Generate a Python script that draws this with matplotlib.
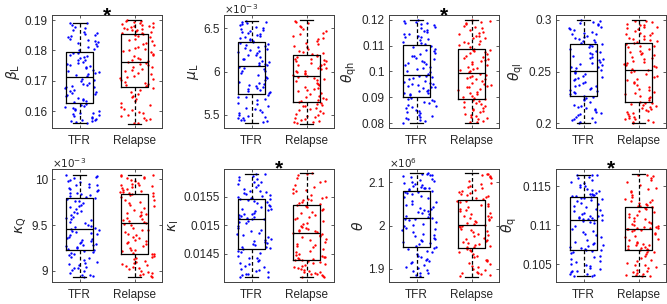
import numpy as np
import matplotlib
matplotlib.use('Agg')
import matplotlib.pyplot as plt
from matplotlib.ticker import FuncFormatter

plt.rcParams['font.family'] = ['Liberation Sans', 'DejaVu Sans']
plt.rcParams['mathtext.fontset'] = 'dejavusans'

groups = ['TFR', 'Relapse']

beta_L_tfr = np.array([
    1561, 1574, 1566, 1589, 1603, 1571, 1612, 1595, 1580, 1620, 1564, 1607, 1583, 1592, 1569, 1615, 1599, 1577, 1624, 1586, 1609, 1568,
    1633, 1652, 1679, 1641, 1698, 1664, 1687, 1637, 1705, 1671, 1648, 1659, 1692, 1683, 1644, 1675, 1702, 1667, 1631, 1656, 1690, 1679,
    1716, 1748, 1733, 1779, 1762, 1725, 1790, 1741, 1754, 1770, 1719, 1786, 1737, 1758, 1729, 1767, 1744, 1782, 1722, 1751, 1774, 1793,
    1801, 1843, 1827, 1866, 1812, 1879, 1851, 1834, 1889, 1806, 1858, 1820, 1873, 1839, 1884, 1815, 1862, 1847, 1830, 1891, 1855, 1824]) * 1e-4
beta_L_rel = np.array([
    1559, 1587, 1612, 1573, 1640, 1598, 1664, 1569, 1625, 1651, 1582, 1607, 1676, 1593, 1633, 1561, 1619, 1645, 1670, 1578, 1603, 1657,
    1683, 1721, 1697, 1745, 1709, 1758, 1689, 1732, 1715, 1751, 1702, 1739, 1681, 1727, 1693, 1761, 1713, 1744, 1686, 1735, 1706, 1755,
    1768, 1802, 1785, 1839, 1817, 1776, 1848, 1794, 1826, 1771, 1809, 1843, 1781, 1830, 1797, 1851, 1813, 1789, 1835, 1766, 1821, 1806,
    1858, 1879, 1866, 1893, 1871, 1886, 1899, 1861, 1882, 1874, 1896, 1868, 1889, 1855, 1877, 1891, 1863, 1884, 1870, 1898, 1859, 1880]) * 1e-4

mu_L_tfr = np.array([
    5412, 5478, 5531, 5444, 5602, 5689, 5425, 5567, 5733, 5499, 5641, 5458, 5710, 5583, 5437, 5625, 5520, 5674, 5469, 5558, 5702, 5491,
    5752, 5831, 5903, 5788, 5967, 6044, 5812, 5879, 6012, 5763, 5941, 6058, 5846, 5795, 5988, 5867, 6031, 5776, 5925, 5856, 6003, 5819,
    6078, 6142, 6213, 6105, 6287, 6331, 6165, 6239, 6094, 6302, 6188, 6127, 6266, 6321, 6151, 6224, 6083, 6279, 6198, 6112, 6256, 6314,
    6348, 6412, 6497, 6379, 6553, 6431, 6578, 6365, 6466, 6521, 6401, 6584, 6446, 6359, 6539, 6488, 6422, 6569, 6391, 6507, 6455, 6572]) * 1e-6
mu_L_rel = np.array([
    5403, 5466, 5521, 5437, 5598, 5641, 5419, 5553, 5489, 5617, 5447, 5578, 5509, 5631, 5428, 5543, 5476, 5605, 5412, 5566, 5499, 5649,
    5661, 5737, 5812, 5694, 5889, 5942, 5724, 5798, 5866, 5679, 5917, 5751, 5843, 5708, 5931, 5776, 5855, 5667, 5903, 5789, 5828, 5945,
    5961, 6028, 6104, 5987, 6152, 6189, 6012, 6073, 6134, 5974, 6168, 6047, 6119, 5998, 6179, 6061, 6091, 6005, 6146, 6037, 6126, 6083,
    6204, 6287, 6376, 6241, 6453, 6532, 6318, 6589, 6264, 6411, 6497, 6226, 6355, 6561, 6299, 6468, 6389, 6214, 6520, 6337, 6434, 6575]) * 1e-6

theta_qh_tfr = np.array([
    802, 831, 857, 815, 889, 846, 871, 808, 899, 824, 863, 839, 883, 812, 851, 877, 827, 895, 842, 819, 868, 886,
    907, 941, 969, 923, 982, 951, 915, 974, 935, 960, 911, 947, 978, 929, 956, 918, 984, 938, 965, 926, 952, 944,
    991, 1034, 1078, 1012, 1095, 1049, 1003, 1067, 1026, 1088, 1041, 997, 1059, 1018, 1083, 1037, 1072, 1008, 1053, 1029, 1099, 1062,
    1108, 1147, 1183, 1126, 1196, 1161, 1115, 1174, 1139, 1192, 1153, 1121, 1187, 1132, 1168, 1110, 1179, 1144, 1199, 1157, 1135, 1189]) * 1e-4
theta_qh_rel = np.array([
    804, 837, 862, 818, 881, 849, 809, 873, 829, 893, 856, 814, 868, 842, 887, 822, 877, 833, 858, 806, 891, 845,
    899, 938, 972, 916, 987, 951, 905, 963, 929, 980, 945, 911, 969, 934, 991, 922, 957, 902, 976, 941, 984, 948,
    998, 1036, 1071, 1012, 1084, 1049, 1003, 1061, 1027, 1079, 1041, 1007, 1066, 1019, 1087, 1054, 1031, 1075, 1045, 1009, 1058, 1082,
    1094, 1136, 1178, 1112, 1193, 1155, 1101, 1167, 1128, 1198, 1146, 1119, 1184, 1139, 1161, 1105, 1189, 1131, 1173, 1149, 1116, 1197]) * 1e-4

theta_ql_tfr = np.array([
    2004, 2087, 2153, 2031, 2219, 2112, 2254, 2062, 2178, 2015, 2136, 2241, 2095, 2049, 2201, 2123, 2008, 2166, 2074, 2232, 2143, 2039,
    2263, 2341, 2417, 2298, 2489, 2372, 2445, 2279, 2503, 2356, 2401, 2318, 2472, 2289, 2436, 2364, 2497, 2327, 2389, 2457, 2307, 2425,
    2512, 2594, 2671, 2548, 2743, 2627, 2702, 2531, 2764, 2608, 2653, 2573, 2721, 2539, 2689, 2617, 2758, 2582, 2641, 2734, 2561, 2679,
    2773, 2846, 2917, 2805, 2982, 2871, 2948, 2789, 2996, 2859, 2904, 2821, 2967, 2838, 2931, 2812, 2989, 2883, 2956, 2795, 2924, 2867]) * 1e-4
theta_ql_rel = np.array([
    2003, 2071, 2134, 2029, 2187, 2098, 2162, 2014, 2119, 2051, 2198, 2083, 2146, 2037, 2175, 2009, 2106, 2062, 2153, 2191, 2044, 2125,
    2209, 2306, 2402, 2251, 2478, 2347, 2431, 2227, 2513, 2369, 2281, 2455, 2318, 2494, 2239, 2387, 2264, 2446, 2332, 2505, 2296, 2419,
    2524, 2603, 2689, 2561, 2752, 2637, 2716, 2542, 2774, 2619, 2668, 2583, 2735, 2551, 2701, 2628, 2767, 2594, 2656, 2744, 2572, 2681,
    2786, 2852, 2921, 2813, 2981, 2877, 2947, 2799, 2994, 2865, 2908, 2828, 2963, 2841, 2934, 2819, 2987, 2889, 2955, 2805, 2927, 2871]) * 1e-4

kappa_Q_tfr = np.array([
    8938, 9012, 9087, 8961, 9154, 9043, 9211, 8979, 9118, 8952, 9066, 9183, 9027, 8995, 9139, 9221, 9074, 8947, 9103, 9169, 9036, 9197,
    9231, 9297, 9364, 9252, 9431, 9318, 9402, 9241, 9455, 9339, 9279, 9418, 9306, 9388, 9262, 9447, 9329, 9373, 9287, 9424, 9349, 9268,
    9467, 9563, 9658, 9502, 9741, 9612, 9695, 9481, 9782, 9588, 9536, 9723, 9631, 9518, 9764, 9574, 9679, 9493, 9645, 9757, 9551, 9706,
    9796, 9867, 9941, 9823, 10012, 9889, 9968, 9808, 10039, 9852, 9917, 9835, 9994, 9878, 9951, 9816, 10027, 9903, 9982, 9845, 9931, 10041]) * 1e-6
kappa_Q_rel = np.array([
    8937, 9003, 9071, 8958, 9142, 9034, 9112, 8972, 9181, 9049, 8991, 9127, 9062, 8946, 9163, 9018, 9098, 8983, 9153, 9041, 9187, 9087,
    9196, 9289, 9387, 9233, 9472, 9341, 9428, 9212, 9519, 9362, 9267, 9451, 9311, 9404, 9248, 9497, 9327, 9375, 9224, 9441, 9302, 9509,
    9533, 9621, 9714, 9568, 9801, 9659, 9753, 9547, 9834, 9642, 9596, 9776, 9687, 9559, 9819, 9631, 9739, 9581, 9702, 9826, 9613, 9768,
    9846, 9903, 9962, 9871, 10021, 9917, 9989, 9858, 10046, 9934, 9881, 10007, 9948, 9865, 10033, 9924, 9977, 9892, 10014, 9941, 9853, 10049]) * 1e-6

kappa_I_tfr = np.array([
    14096, 14213, 14347, 14152, 14468, 14281, 14551, 14127, 14402, 14239, 14583, 14178, 14319, 14436, 14104, 14267, 14512, 14195, 14376, 14538, 14141, 14421,
    14597, 14738, 14872, 14651, 14993, 14786, 15064, 14619, 14921, 14703, 15102, 14669, 14834, 14957, 14627, 14761, 15037, 14692, 14896, 15081, 14718, 14852,
    15117, 15204, 15312, 15148, 15401, 15259, 15443, 15133, 15358, 15221, 15457, 15171, 15287, 15386, 15124, 15243, 15421, 15189, 15334, 15449, 15162, 15276,
    15468, 15579, 15706, 15513, 15813, 15637, 15891, 15492, 15748, 15561, 15862, 15526, 15672, 15783, 15481, 15604, 15847, 15543, 15725, 15896, 15589, 15762]) * 1e-6
kappa_I_rel = np.array([
    14093, 14168, 14247, 14119, 14321, 14205, 14379, 14134, 14283, 14182, 14397, 14154, 14226, 14341, 14102, 14264, 14362, 14141, 14301, 14193, 14389, 14237,
    14406, 14527, 14648, 14452, 14761, 14583, 14834, 14431, 14705, 14496, 14851, 14469, 14612, 14738, 14418, 14556, 14792, 14479, 14672, 14817, 14441, 14629,
    14867, 14989, 15118, 14921, 15236, 15047, 15318, 14893, 15174, 14962, 15341, 14935, 15081, 15207, 14876, 15013, 15289, 14948, 15142, 15264, 14907, 15103,
    15358, 15491, 15637, 15412, 15778, 15553, 15872, 15386, 15703, 15459, 15908, 15431, 15588, 15745, 15367, 15522, 15831, 15443, 15661, 15896, 15474, 15612]) * 1e-6

theta_tfr = np.array([
    1883, 1904, 1927, 1891, 1942, 1912, 1949, 1897, 1934, 1886, 1918, 1945, 1908, 1923, 1889, 1938, 1901, 1930, 1915, 1947, 1894, 1921,
    1953, 1971, 1992, 1962, 2009, 1980, 2014, 1957, 1998, 1967, 2012, 1975, 1986, 2004, 1959, 1978, 2001, 1965, 1989, 2015, 1969, 1995,
    2018, 2035, 2057, 2026, 2072, 2044, 2077, 2022, 2063, 2031, 2075, 2040, 2051, 2068, 2020, 2038, 2066, 2029, 2054, 2078, 2033, 2047,
    2081, 2093, 2108, 2086, 2117, 2099, 2120, 2084, 2112, 2091, 2119, 2088, 2103, 2114, 2082, 2096, 2116, 2090, 2106, 2121, 2087, 2101]) * 1e3
theta_rel = np.array([
    1882, 1899, 1921, 1889, 1938, 1907, 1944, 1893, 1929, 1885, 1913, 1941, 1903, 1917, 1887, 1934, 1896, 1926, 1910, 1946, 1891, 1919,
    1949, 1963, 1981, 1955, 1996, 1971, 2000, 1952, 1987, 1959, 1999, 1967, 1976, 1992, 1951, 1969, 1989, 1957, 1979, 2001, 1961, 1984,
    2004, 2019, 2038, 2011, 2051, 2027, 2056, 2007, 2043, 2015, 2054, 2023, 2033, 2047, 2005, 2021, 2045, 2013, 2035, 2057, 2017, 2030,
    2061, 2078, 2097, 2069, 2113, 2086, 2119, 2065, 2104, 2073, 2117, 2081, 2092, 2109, 2063, 2083, 2115, 2071, 2099, 2120, 2075, 2089]) * 1e3

theta_q_tfr = np.array([
    10349, 10436, 10527, 10381, 10612, 10474, 10668, 10362, 10569, 10411, 10679, 10397, 10493, 10588, 10354, 10452, 10641, 10418, 10544, 10657, 10371, 10506,
    10688, 10789, 10912, 10731, 11024, 10846, 11063, 10705, 10957, 10762, 11069, 10719, 10871, 10993, 10697, 10814, 11041, 10748, 10931, 11055, 10773, 10889,
    11076, 11144, 11231, 11103, 11306, 11178, 11349, 11089, 11267, 11121, 11354, 11112, 11196, 11289, 11083, 11159, 11328, 11135, 11248, 11341, 11098, 11213,
    11363, 11432, 11519, 11389, 11601, 11467, 11641, 11372, 11558, 11414, 11644, 11398, 11489, 11582, 11368, 11447, 11623, 11405, 11536, 11637, 11381, 11501]) * 1e-5
theta_q_rel = np.array([
    10347, 10428, 10519, 10374, 10603, 10466, 10661, 10358, 10557, 10403, 10677, 10389, 10485, 10579, 10351, 10447, 10634, 10412, 10538, 10651, 10366, 10497,
    10686, 10758, 10843, 10712, 10921, 10789, 10948, 10697, 10882, 10741, 10951, 10724, 10806, 10903, 10691, 10773, 10937, 10733, 10861, 10944, 10751, 10827,
    10959, 11026, 11109, 10983, 11187, 11058, 11229, 10966, 11146, 11004, 11232, 10995, 11078, 11168, 10962, 11041, 11208, 11013, 11127, 11221, 10977, 11093,
    11241, 11336, 11462, 11283, 11573, 11391, 11641, 11259, 11517, 11312, 11647, 11301, 11424, 11548, 11248, 11359, 11602, 11327, 11483, 11629, 11272, 11441]) * 1e-5

# box stats: [whisker low, q1, median, q3, whisker high]
beta_L_box = [[0.1560, 0.1628, 0.1711, 0.1795, 0.1892], [0.1558, 0.1678, 0.1763, 0.1853, 0.1900]]
mu_L_box = [[5.406e-3, 5.746e-3, 6.070e-3, 6.340e-3, 6.586e-3], [5.398e-3, 5.652e-3, 5.953e-3, 6.195e-3, 6.594e-3]]
theta_qh_box = [[0.0800, 0.0903, 0.0986, 0.1102, 0.1200], [0.0800, 0.0895, 0.0994, 0.1089, 0.1200]]
theta_ql_box = [[0.2000, 0.2258, 0.2506, 0.2768, 0.3000], [0.2000, 0.2203, 0.2519, 0.2780, 0.3000]]
kappa_Q_box = [[8.934e-3, 9.226e-3, 9.460e-3, 9.790e-3, 10.044e-3], [8.934e-3, 9.190e-3, 9.526e-3, 9.840e-3, 10.050e-3]]
kappa_I_box = [[0.01409, 0.01459, 0.01511, 0.01546, 0.01590], [0.01409, 0.01440, 0.01486, 0.01535, 0.01591]]
theta_box = [[1.881e6, 1.951e6, 2.0165e6, 2.079e6, 2.121e6], [1.881e6, 1.947e6, 2.002e6, 2.058e6, 2.121e6]]
theta_q_box = [[0.10345, 0.10681, 0.11071, 0.11357, 0.11647], [0.10345, 0.10681, 0.10954, 0.11235, 0.11650]]

labels = [r'$\beta_\mathrm{L}$', r'$\mu_\mathrm{L}$', r'$\theta_\mathrm{qh}$', r'$\theta_\mathrm{ql}$',
          r'$\kappa_\mathrm{Q}$', r'$\kappa_\mathrm{I}$', r'$\theta$', r'$\theta_\mathrm{q}$']
significant = [True, False, True, False, False, True, False, True]

panels = [
    (beta_L_tfr, beta_L_rel, beta_L_box, [0.16, 0.17, 0.18, 0.19], (0.1544, 0.1917), 0),
    (mu_L_tfr, mu_L_rel, mu_L_box, [5.5e-3, 6e-3, 6.5e-3], (5.348e-3, 6.656e-3), -3),
    (theta_qh_tfr, theta_qh_rel, theta_qh_box, [0.08, 0.09, 0.1, 0.11, 0.12], (0.0781, 0.1219), 0),
    (theta_ql_tfr, theta_ql_rel, theta_ql_box, [0.2, 0.25, 0.3], (0.1952, 0.3048), 0),
    (kappa_Q_tfr, kappa_Q_rel, kappa_Q_box, [9e-3, 9.5e-3, 10e-3], (8.88e-3, 10.11e-3), -3),
    (kappa_I_tfr, kappa_I_rel, kappa_I_box, [0.0145, 0.015, 0.0155], (0.01401, 0.01598), 0),
    (theta_tfr, theta_rel, theta_box, [1.9e6, 2e6, 2.1e6], (1.869e6, 2.131e6), 6),
    (theta_q_tfr, theta_q_rel, theta_q_box, [0.105, 0.11, 0.115], (0.10273, 0.1172), 0),
]

lefts = [52, 224, 389, 556]
tops = [15, 169]
W, H = 667, 304
axw, axh = 110, 113

fig = plt.figure(figsize=(6.67, 3.04), dpi=100)
rng = np.random.default_rng(7)  # only for horizontal jitter of the dots
frame = '0.25'

for k, (tfr, rel, box, ticks, ylim, ex) in enumerate(panels):
    r, c = divmod(k, 4)
    ax = fig.add_axes([lefts[c] / W, (H - tops[r] - axh) / H, axw / W, axh / H])

    for pos, vals, col in [(1, tfr, 'b'), (2, rel, 'r')]:
        xj = pos + 0.05 + rng.uniform(-0.31, 0.31, len(vals))
        ax.plot(xj, vals, '.', color=col, ms=3.4, mew=0, zorder=1)

    stats = [dict(whislo=b[0], q1=b[1], med=b[2], q3=b[3], whishi=b[4], fliers=[]) for b in box]
    ax.bxp(stats, positions=[1, 2], widths=0.5, capwidths=0.25, showfliers=False,
           boxprops=dict(color='k', lw=0.9), medianprops=dict(color='k', lw=0.9),
           whiskerprops=dict(color='k', lw=0.9, ls=(0, (3, 2))), capprops=dict(color='k', lw=0.9),
           zorder=3)

    ax.set_xlim(0.5, 2.5)
    ax.set_xticks([1, 2])
    ax.set_xticklabels(groups)
    ax.set_ylim(*ylim)
    ax.set_yticks(ticks)
    scale = 10.0 ** ex
    ax.yaxis.set_major_formatter(FuncFormatter(lambda v, _, s=scale: '%g' % round(v / s, 6)))
    ax.tick_params(direction='in', length=2.5, width=0.6, color=frame, labelsize=8.5,
                   labelcolor='0.15', top=True, right=True)
    ax.tick_params(axis='x', pad=5)
    ax.tick_params(axis='y', pad=3)
    for sp in ax.spines.values():
        sp.set_color(frame)
        sp.set_linewidth(0.7)
    ax.set_ylabel(labels[k], fontsize=10, color='0.15', labelpad=2)
    if ex != 0:
        ax.text(0.0, 0.995, r'$\times10^{%d}$' % ex, transform=ax.transAxes, ha='left',
                va='bottom', fontsize=7.5, color='0.15')
    if significant[k]:
        ax.text(0.5, 0.94 if r == 0 else 0.95, '*', transform=ax.transAxes, ha='center',
                va='baseline', fontsize=15, fontweight='bold', color='k')

fig.savefig('out.png', dpi=100)
